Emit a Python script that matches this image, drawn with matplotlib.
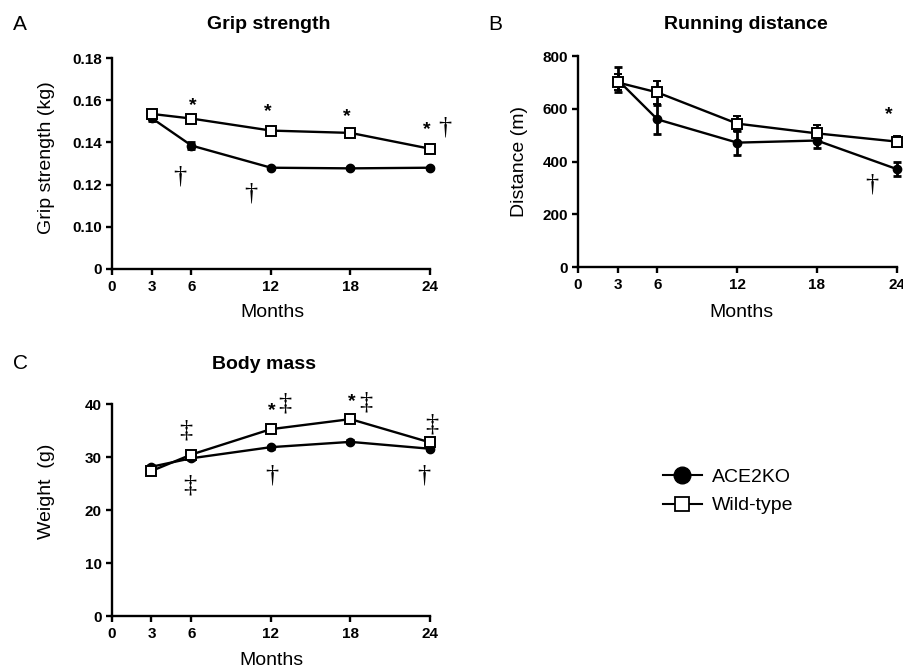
import matplotlib
matplotlib.use('Agg')
import matplotlib.pyplot as plt
from matplotlib.lines import Line2D

plt.rcParams['font.family'] = ['Liberation Sans', 'DejaVu Sans']

# data
months = [3, 6, 12, 18, 24]

grip_ko = [0.1515, 0.1385, 0.1280, 0.1277, 0.1280]
grip_ko_err = [0.0015, 0.0015, 0.0005, 0.0005, 0.0005]
grip_wt = [0.1535, 0.1513, 0.1456, 0.1445, 0.1370]
grip_wt_err = [0.0008, 0.0005, 0.0005, 0.0013, 0.0005]

dist_ko = [710, 560, 472, 480, 372]
dist_ko_err = [48, 55, 45, 28, 27]
dist_wt = [700, 662, 544, 507, 476]
dist_wt_err = [30, 42, 27, 33, 20]

mass_ko = [28.2, 29.8, 31.9, 32.9, 31.6]
mass_ko_err = [0.3, 0.3, 0.3, 0.3, 0.3]
mass_wt = [27.4, 30.5, 35.3, 37.2, 32.8]
mass_wt_err = [0.4, 0.5, 0.6, 0.8, 0.5]

month_ticks = [0, 3, 6, 12, 18, 24]

# significance marks: (month, value, symbol)
grip_marks = [(6.09, 0.1576, '*'), (11.75, 0.1545, '*'), (17.71, 0.1521, '*'),
              (23.75, 0.1459, '*'), (5.13, 0.1240, '\u2020'),
              (10.47, 0.1159, '\u2020'), (25.13, 0.1471, '\u2020')]
dist_marks = [(23.37, 577, '*'), (22.12, 315, '\u2020')]
mass_marks = [(5.58, 35.0, '\u2021'), (5.9, 24.7, '\u2021'), (12.07, 38.9, '*'),
              (13.02, 40.06, '\u2021'), (18.1, 40.5, '*'), (19.15, 40.4, '\u2021'),
              (24.13, 36.2, '\u2021'), (12.07, 26.6, '\u2020'), (23.5, 26.6, '\u2020')]

W, H = 904, 669
fig = plt.figure(figsize=(W / 100, H / 100), dpi=100)


def px_axes(left, top, right, bottom):
    return fig.add_axes([left / W, 1 - bottom / H, (right - left) / W, (bottom - top) / H])


def style_axis(ax):
    for s in ['top', 'right']:
        ax.spines[s].set_visible(False)
    for s in ['left', 'bottom']:
        ax.spines[s].set_linewidth(1.7)
    ax.tick_params(direction='out', length=4, width=1.7, labelsize=11)
    ax.tick_params(axis='x', pad=4)
    ax.tick_params(axis='y', pad=3)
    ax.set_xlim(0, 24)
    ax.set_xticks(month_ticks)
    for lab in ax.get_xticklabels() + ax.get_yticklabels():
        lab.set_fontweight('bold')


def draw_series(ax, ko, ko_err, wt, wt_err):
    ax.errorbar(months, ko, yerr=ko_err, fmt='o-', color='black', ms=6,
                lw=1.7, capsize=3, elinewidth=2, capthick=2, clip_on=False, zorder=3)
    ax.errorbar(months, wt, yerr=wt_err, fmt='s-', color='black', mfc='white',
                mec='black', ms=7, mew=1.4, lw=1.7, capsize=3, elinewidth=2,
                capthick=2, clip_on=False, zorder=4)


def add_marks(ax, marks):
    for x, y, s in marks:
        if s == '*':
            ax.text(x, y, s, fontsize=14, fontweight='bold', ha='center', va='center')
        else:
            ax.text(x, y, s, fontsize=19, family='Liberation Serif',
                    ha='center', va='center')


# A: grip strength (broken axis, 0 shown where 0.08 sits)
axA = px_axes(112, 58, 430, 269)
draw_series(axA, grip_ko, grip_ko_err, grip_wt, grip_wt_err)
axA.set_ylim(0.08, 0.18)
axA.set_yticks([0.08, 0.10, 0.12, 0.14, 0.16, 0.18])
axA.set_yticklabels(['0', '0.10', '0.12', '0.14', '0.16', '0.18'])
style_axis(axA)
add_marks(axA, grip_marks)
axA.set_ylabel('Grip strength (kg)', fontsize=14)
axA.yaxis.set_label_coords(-0.205, 0.528)
axA.yaxis.label.set_va('center')
axA.set_xlabel('Months', fontsize=14)
axA.xaxis.set_label_coords(0.503, -0.208)
axA.xaxis.label.set_va('center')

# B: running distance
axB = px_axes(577.7, 56, 896.7, 267.3)
draw_series(axB, dist_ko, dist_ko_err, dist_wt, dist_wt_err)
axB.set_ylim(0, 800)
axB.set_yticks([0, 200, 400, 600, 800])
style_axis(axB)
add_marks(axB, dist_marks)
axB.set_ylabel('Distance (m)', fontsize=14)
axB.yaxis.set_label_coords(-0.184, 0.5)
axB.yaxis.label.set_va('center')
axB.set_xlabel('Months', fontsize=14)
axB.xaxis.set_label_coords(0.514, -0.216)
axB.xaxis.label.set_va('center')

# C: body mass
axC = px_axes(111.7, 404.3, 430, 616)
draw_series(axC, mass_ko, mass_ko_err, mass_wt, mass_wt_err)
axC.set_ylim(0, 40)
axC.set_yticks([0, 10, 20, 30, 40])
style_axis(axC)
add_marks(axC, mass_marks)
axC.set_ylabel('Weight  (g)', fontsize=14)
axC.yaxis.set_label_coords(-0.206, 0.588)
axC.yaxis.label.set_va('center')
axC.set_xlabel('Months', fontsize=14)
axC.xaxis.set_label_coords(0.502, -0.208)
axC.xaxis.label.set_va('center')

# panel letters and titles
fig.text(13 / W, 1 - 29.5 / H, 'A', fontsize=15, va='baseline')
fig.text(488 / W, 1 - 29.5 / H, 'B', fontsize=15, va='baseline')
fig.text(12.7 / W, 1 - 369 / H, 'C', fontsize=15, va='baseline')
fig.text(269 / W, 1 - 29 / H, 'Grip strength', fontsize=14, fontweight='bold',
         ha='center', va='baseline')
fig.text(745.8 / W, 1 - 29 / H, 'Running distance', fontsize=14, fontweight='bold',
         ha='center', va='baseline')
fig.text(264 / W, 1 - 369 / H, 'Body mass', fontsize=14, fontweight='bold',
         ha='center', va='baseline')

handles = [
    Line2D([], [], color='black', lw=1.5, marker='o', ms=12),
    Line2D([], [], color='black', lw=1.5, marker='s', ms=10, mfc='white', mew=1.3),
]
fig.legend(handles, ['ACE2KO', 'Wild-type'], loc='center left',
           bbox_to_anchor=(663 / W, 1 - 491.5 / H), frameon=False, fontsize=14,
           handlelength=2.0, handletextpad=0.5, labelspacing=0.55,
           borderpad=0, borderaxespad=0)

fig.savefig('out.png', dpi=100)
